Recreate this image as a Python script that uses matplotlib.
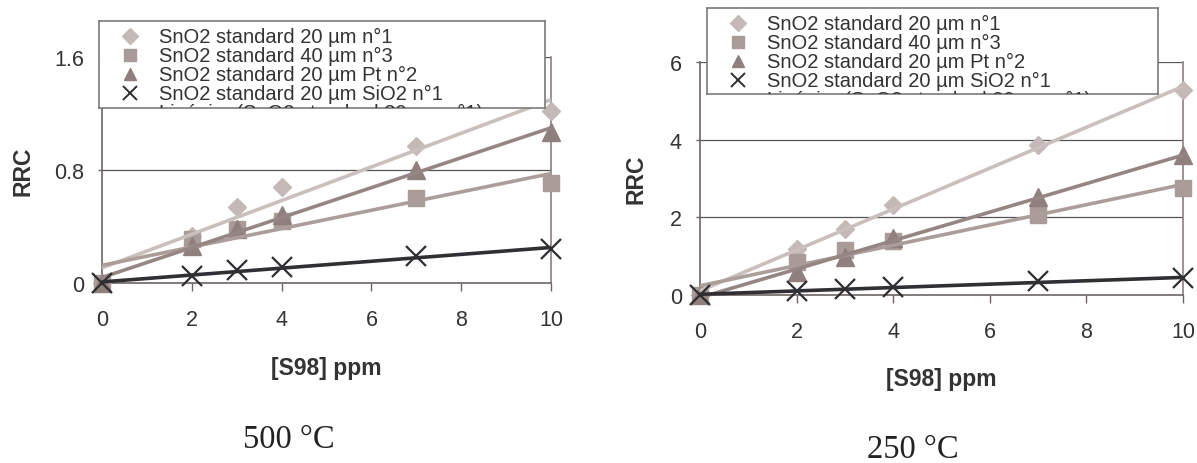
import numpy as np
import matplotlib
matplotlib.use("Agg")
import matplotlib.pyplot as plt

plt.rcParams['font.family'] = ['Liberation Sans', 'DejaVu Sans']

# ---- data -------------------------------------------------------------
conc = [0, 2, 3, 4, 7, 10]                     # [S98] ppm

series_labels = [
    "SnO2 standard 20 µm n°1",
    "SnO2 standard 40 µm n°3",
    "SnO2 standard 20 µm Pt n°2",
    "SnO2 standard 20 µm SiO2 n°1",
]
trend_label = "Linéaire (SnO2 standard 20 µm n°1)"

# 500 °C
rrc_500_std20_n1 = [0, 0.33, 0.54, 0.68, 0.97, 1.22]
rrc_500_std40_n3 = [0, 0.31, 0.38, 0.44, 0.60, 0.71]
rrc_500_pt_n2 = [0, 0.26, 0.38, 0.48, 0.80, 1.07]
rrc_500_sio2_n1 = [0, 0.05, 0.09, 0.11, 0.19, 0.24]

# 250 °C
rrc_250_std20_n1 = [0, 1.18, 1.70, 2.32, 3.85, 5.28]
rrc_250_std40_n3 = [0, 0.85, 1.16, 1.40, 2.05, 2.75]
rrc_250_pt_n2 = [0, 0.59, 0.97, 1.46, 2.52, 3.60]
rrc_250_sio2_n1 = [0, 0.11, 0.15, 0.20, 0.35, 0.43]

yticks_500 = [0, 0.8, 1.6]
yticklabels_500 = ["0", "0.8", "1.6"]
yticks_250 = [0, 2, 4, 6]
xticks = [0, 2, 4, 6, 8, 10]
titles = ["500 °C", "250 °C"]

# ---- styles -------------------------------------------------------------
markers = ["D", "s", "^", "x"]
marker_sizes = [9.5, 12, 12.5, 14]
marker_colors = ["#c4b9b6", "#a89b98", "#8f807d", "#2e2e32"]
line_colors = ["#c9bfbc", "#ab9d9a", "#968683", "#2f2f34"]
text_color = "#333333"
frame_color = "#8a8080"

W, H = 1197, 464
fig = plt.figure(figsize=(W / 100, H / 100), dpi=100)


def px_axes(x0, y0, x1, y1):
    """Axes spanning pixel box (x0, y0)-(x1, y1), origin at top-left."""
    return fig.add_axes([x0 / W, 1 - y1 / H, (x1 - x0) / W, (y1 - y0) / H])


def draw_panel(ax, ys, yticks, yticklabels, ylim, ylabel_x):
    ax.set_xlim(0, 10)
    ax.set_ylim(*ylim)
    xs = np.array(conc, dtype=float)
    xfit = np.array([0.0, 10.0])
    for y, m, ms, mc, lc in zip(ys, markers, marker_sizes, marker_colors, line_colors):
        y = np.array(y, dtype=float)
        slope, icpt = np.polyfit(xs, y, 1)
        if m == "x":
            ax.plot(xs, y, linestyle="none", marker=m, ms=ms, mew=1.6,
                    color=mc, clip_on=False, zorder=4)
        else:
            ax.plot(xs, y, linestyle="none", marker=m, ms=ms, mfc=mc,
                    mec=mc, clip_on=False, zorder=3)
        ax.plot(xfit, slope * xfit + icpt, color=lc, lw=2.6,
                solid_capstyle="butt", zorder=4, clip_on=False)
    ax.set_yticks(yticks)
    ax.set_yticklabels(yticklabels)
    ax.set_xticks(xticks)
    for v in yticks[1:]:
        ax.axhline(v, color="#555555", lw=0.9, zorder=1)
    for side in ("left", "bottom"):
        ax.spines[side].set_color("#6e6464")
        ax.spines[side].set_linewidth(1.2)
    ax.spines["right"].set_color(frame_color)
    ax.spines["right"].set_linewidth(1.2)
    ax.spines["top"].set_visible(False)
    ax.tick_params(axis="x", direction="out", length=6, width=1,
                   color="#6e6464", pad=13, labelsize=15.5, labelcolor=text_color)
    ax.tick_params(axis="y", direction="out", length=3, width=1,
                   color="#6e6464", pad=10, labelsize=15.5, labelcolor=text_color)
    ax.set_ylabel("RRC", fontsize=16.5, fontweight="bold", color=text_color)
    ax.yaxis.set_label_coords(ylabel_x, 0.5)
    ax.set_xlabel("[S98] ppm", fontsize=16.5, fontweight="bold", color=text_color)


def draw_legend(x0, y0, x1, y1):
    lg = px_axes(x0, y0, x1, y1)
    w, h = x1 - x0, y1 - y0
    lg.set_xlim(0, w)
    lg.set_ylim(h, 0)
    lg.set_xticks([])
    lg.set_yticks([])
    lg.set_facecolor("white")
    for s in lg.spines.values():
        s.set_color("#7a7a7a")
        s.set_linewidth(1.2)
    row_y = [15, 34, 53, 72, 91]
    for i, lab in enumerate(series_labels):
        if markers[i] == "x":
            lg.plot([31], [row_y[i]], marker="x", ms=10, mew=1.4,
                    color=marker_colors[i], linestyle="none")
        else:
            lg.plot([31], [row_y[i]], marker=markers[i], ms=8,
                    color=marker_colors[i], linestyle="none")
        lg.text(60, row_y[i], lab, fontsize=14.5, color=text_color,
                va="center", ha="left", clip_on=True)
    lg.plot([16, 46], [row_y[4], row_y[4]], color=line_colors[0], lw=2.3,
            clip_on=True)
    lg.text(60, row_y[4], trend_label, fontsize=14.5, color=text_color,
            va="center", ha="left", clip_on=True)


ax1 = px_axes(102, 58, 551, 284)
draw_panel(ax1, [rrc_500_std20_n1, rrc_500_std40_n3, rrc_500_pt_n2, rrc_500_sio2_n1],
           yticks_500, yticklabels_500, (0, 1.6), -0.151)
ax1.xaxis.set_label_coords(0.5, -0.323)

ax2 = px_axes(700, 63, 1183, 296)
draw_panel(ax2, [rrc_250_std20_n1, rrc_250_std40_n3, rrc_250_pt_n2, rrc_250_sio2_n1],
           yticks_250, [str(v) for v in yticks_250], (0, 6), -0.108)
ax2.xaxis.set_label_coords(0.5, -0.309)

draw_legend(99, 22, 545, 109)
draw_legend(707, 9, 1158, 95)

fig.text(289 / W, 1 - 440 / H, titles[0], fontsize=23.5, family="Liberation Serif",
         color="#222222", ha="center", va="center")
fig.text(913 / W, 1 - 450 / H, titles[1], fontsize=23.5, family="Liberation Serif",
         color="#222222", ha="center", va="center")

fig.savefig("out.png", dpi=100, facecolor="white")
